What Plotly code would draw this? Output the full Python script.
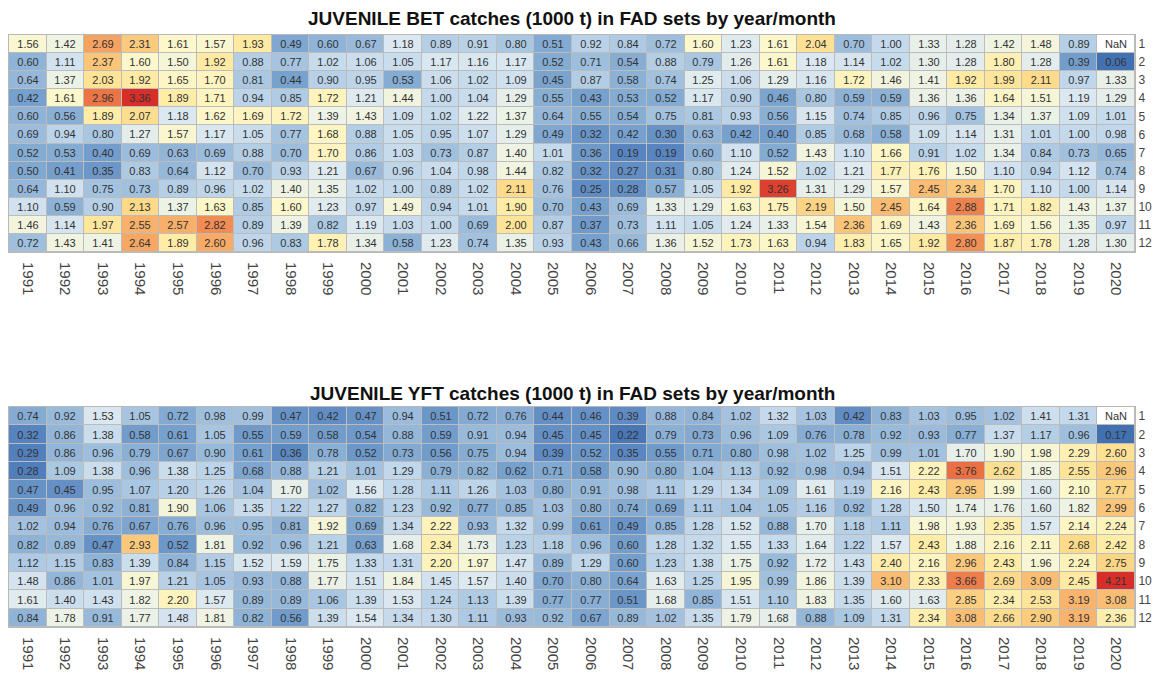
import plotly.graph_objects as go

years = [str(y) for y in range(1991, 2021)]
months = [str(m) for m in range(1, 13)]

# JUVENILE BET catches (1000 t), one list per month, columns 1991..2020
bet_m01 = [1.56, 1.42, 2.69, 2.31, 1.61, 1.57, 1.93, 0.49, 0.60, 0.67, 1.18, 0.89, 0.91, 0.80, 0.51, 0.92, 0.84, 0.72, 1.60, 1.23, 1.61, 2.04, 0.70, 1.00, 1.33, 1.28, 1.42, 1.48, 0.89, None]
bet_m02 = [0.60, 1.11, 2.37, 1.60, 1.50, 1.92, 0.88, 0.77, 1.02, 1.06, 1.05, 1.17, 1.16, 1.17, 0.52, 0.71, 0.54, 0.88, 0.79, 1.26, 1.61, 1.18, 1.14, 1.02, 1.30, 1.28, 1.80, 1.28, 0.39, 0.06]
bet_m03 = [0.64, 1.37, 2.03, 1.92, 1.65, 1.70, 0.81, 0.44, 0.90, 0.95, 0.53, 1.06, 1.02, 1.09, 0.45, 0.87, 0.58, 0.74, 1.25, 1.06, 1.29, 1.16, 1.72, 1.46, 1.41, 1.92, 1.99, 2.11, 0.97, 1.33]
bet_m04 = [0.42, 1.61, 2.96, 3.36, 1.89, 1.71, 0.94, 0.85, 1.72, 1.21, 1.44, 1.00, 1.04, 1.29, 0.55, 0.43, 0.53, 0.52, 1.17, 0.90, 0.46, 0.80, 0.59, 0.59, 1.36, 1.36, 1.64, 1.51, 1.19, 1.29]
bet_m05 = [0.60, 0.56, 1.89, 2.07, 1.18, 1.62, 1.69, 1.72, 1.39, 1.43, 1.09, 1.02, 1.22, 1.37, 0.64, 0.55, 0.54, 0.75, 0.81, 0.93, 0.56, 1.15, 0.74, 0.85, 0.96, 0.75, 1.34, 1.37, 1.09, 1.01]
bet_m06 = [0.69, 0.94, 0.80, 1.27, 1.57, 1.17, 1.05, 0.77, 1.68, 0.88, 1.05, 0.95, 1.07, 1.29, 0.49, 0.32, 0.42, 0.30, 0.63, 0.42, 0.40, 0.85, 0.68, 0.58, 1.09, 1.14, 1.31, 1.01, 1.00, 0.98]
bet_m07 = [0.52, 0.53, 0.40, 0.69, 0.63, 0.69, 0.88, 0.70, 1.70, 0.86, 1.03, 0.73, 0.87, 1.40, 1.01, 0.36, 0.19, 0.19, 0.60, 1.10, 0.52, 1.43, 1.10, 1.66, 0.91, 1.02, 1.34, 0.84, 0.73, 0.65]
bet_m08 = [0.50, 0.41, 0.35, 0.83, 0.64, 1.12, 0.70, 0.93, 1.21, 0.67, 0.96, 1.04, 0.98, 1.44, 0.82, 0.32, 0.27, 0.31, 0.80, 1.24, 1.52, 1.02, 1.21, 1.77, 1.76, 1.50, 1.10, 0.94, 1.12, 0.74]
bet_m09 = [0.64, 1.10, 0.75, 0.73, 0.89, 0.96, 1.02, 1.40, 1.35, 1.02, 1.00, 0.89, 1.02, 2.11, 0.76, 0.25, 0.28, 0.57, 1.05, 1.92, 3.26, 1.31, 1.29, 1.57, 2.45, 2.34, 1.70, 1.10, 1.00, 1.14]
bet_m10 = [1.10, 0.59, 0.90, 2.13, 1.37, 1.63, 0.85, 1.60, 1.23, 0.97, 1.49, 0.94, 1.01, 1.90, 0.70, 0.43, 0.69, 1.33, 1.29, 1.63, 1.75, 2.19, 1.50, 2.45, 1.64, 2.88, 1.71, 1.82, 1.43, 1.37]
bet_m11 = [1.46, 1.14, 1.97, 2.55, 2.57, 2.82, 0.89, 1.39, 0.82, 1.19, 1.03, 1.00, 0.69, 2.00, 0.87, 0.37, 0.73, 1.11, 1.05, 1.24, 1.33, 1.54, 2.36, 1.69, 1.43, 2.36, 1.69, 1.56, 1.35, 0.97]
bet_m12 = [0.72, 1.43, 1.41, 2.64, 1.89, 2.60, 0.96, 0.83, 1.78, 1.34, 0.58, 1.23, 0.74, 1.35, 0.93, 0.43, 0.66, 1.36, 1.52, 1.73, 1.63, 0.94, 1.83, 1.65, 1.92, 2.80, 1.87, 1.78, 1.28, 1.30]

# JUVENILE YFT catches (1000 t), one list per month, columns 1991..2020
yft_m01 = [0.74, 0.92, 1.53, 1.05, 0.72, 0.98, 0.99, 0.47, 0.42, 0.47, 0.94, 0.51, 0.72, 0.76, 0.44, 0.46, 0.39, 0.88, 0.84, 1.02, 1.32, 1.03, 0.42, 0.83, 1.03, 0.95, 1.02, 1.41, 1.31, None]
yft_m02 = [0.32, 0.86, 1.38, 0.58, 0.61, 1.05, 0.55, 0.59, 0.58, 0.54, 0.88, 0.59, 0.91, 0.94, 0.45, 0.45, 0.22, 0.79, 0.73, 0.96, 1.09, 0.76, 0.78, 0.92, 0.93, 0.77, 1.37, 1.17, 0.96, 0.17]
yft_m03 = [0.29, 0.86, 0.96, 0.79, 0.67, 0.90, 0.61, 0.36, 0.78, 0.52, 0.73, 0.56, 0.75, 0.94, 0.39, 0.52, 0.35, 0.55, 0.71, 0.80, 0.98, 1.02, 1.25, 0.99, 1.01, 1.70, 1.90, 1.98, 2.29, 2.60]
yft_m04 = [0.28, 1.09, 1.38, 0.96, 1.38, 1.25, 0.68, 0.88, 1.21, 1.01, 1.29, 0.79, 0.82, 0.62, 0.71, 0.58, 0.90, 0.80, 1.04, 1.13, 0.92, 0.98, 0.94, 1.51, 2.22, 3.76, 2.62, 1.85, 2.55, 2.96]
yft_m05 = [0.47, 0.45, 0.95, 1.07, 1.20, 1.26, 1.04, 1.70, 1.02, 1.56, 1.28, 1.11, 1.26, 1.03, 0.80, 0.91, 0.98, 1.11, 1.29, 1.34, 1.09, 1.61, 1.19, 2.16, 2.43, 2.95, 1.99, 1.60, 2.10, 2.77]
yft_m06 = [0.49, 0.96, 0.92, 0.81, 1.90, 1.06, 1.35, 1.22, 1.27, 0.82, 1.23, 0.92, 0.77, 0.85, 1.03, 0.80, 0.74, 0.69, 1.11, 1.04, 1.05, 1.16, 0.92, 1.28, 1.50, 1.74, 1.76, 1.60, 1.82, 2.99]
yft_m07 = [1.02, 0.94, 0.76, 0.67, 0.76, 0.96, 0.95, 0.81, 1.92, 0.69, 1.34, 2.22, 0.93, 1.32, 0.99, 0.61, 0.49, 0.85, 1.28, 1.52, 0.88, 1.70, 1.18, 1.11, 1.98, 1.93, 2.35, 1.57, 2.14, 2.24]
yft_m08 = [0.82, 0.89, 0.47, 2.93, 0.52, 1.81, 0.92, 0.96, 1.21, 0.63, 1.68, 2.34, 1.73, 1.23, 1.18, 0.96, 0.60, 1.28, 1.32, 1.55, 1.33, 1.64, 1.22, 1.57, 2.43, 1.88, 2.16, 2.11, 2.68, 2.42]
yft_m09 = [1.12, 1.15, 0.83, 1.39, 0.84, 1.15, 1.52, 1.59, 1.75, 1.33, 1.31, 2.20, 1.97, 1.47, 0.89, 1.29, 0.60, 1.23, 1.38, 1.75, 0.92, 1.72, 1.43, 2.40, 2.16, 2.96, 2.43, 1.96, 2.24, 2.75]
yft_m10 = [1.48, 0.86, 1.01, 1.97, 1.21, 1.05, 0.93, 0.88, 1.77, 1.51, 1.84, 1.45, 1.57, 1.40, 0.70, 0.80, 0.64, 1.63, 1.25, 1.95, 0.99, 1.86, 1.39, 3.10, 2.33, 3.66, 2.69, 3.09, 2.45, 4.21]
yft_m11 = [1.61, 1.40, 1.43, 1.82, 2.20, 1.57, 0.89, 0.89, 1.06, 1.39, 1.53, 1.24, 1.13, 1.39, 0.77, 0.77, 0.51, 1.68, 0.85, 1.51, 1.10, 1.83, 1.35, 1.60, 1.63, 2.85, 2.34, 2.53, 3.19, 3.08]
yft_m12 = [0.84, 1.78, 0.91, 1.77, 1.48, 1.81, 0.82, 0.56, 1.39, 1.54, 1.34, 1.30, 1.11, 0.93, 0.92, 0.67, 0.89, 1.02, 1.35, 1.79, 1.68, 0.88, 1.09, 1.31, 2.34, 3.08, 2.66, 2.90, 3.19, 2.36]

bet = [bet_m01, bet_m02, bet_m03, bet_m04, bet_m05, bet_m06,
       bet_m07, bet_m08, bet_m09, bet_m10, bet_m11, bet_m12]
yft = [yft_m01, yft_m02, yft_m03, yft_m04, yft_m05, yft_m06,
       yft_m07, yft_m08, yft_m09, yft_m10, yft_m11, yft_m12]

title_bet = "JUVENILE BET catches (1000 t) in FAD sets by year/month"
title_yft = "JUVENILE YFT catches (1000 t) in FAD sets by year/month"

colorscale = [
    [0.000, "rgb(66,113,178)"],
    [0.040, "rgb(88,133,192)"],
    [0.110, "rgb(118,160,205)"],
    [0.165, "rgb(144,180,215)"],
    [0.225, "rgb(170,199,226)"],
    [0.285, "rgb(196,217,236)"],
    [0.345, "rgb(221,233,241)"],
    [0.406, "rgb(238,243,228)"],
    [0.467, "rgb(252,248,204)"],
    [0.558, "rgb(255,236,166)"],
    [0.618, "rgb(253,220,140)"],
    [0.709, "rgb(250,194,118)"],
    [0.800, "rgb(245,160,95)"],
    [0.891, "rgb(234,110,66)"],
    [1.000, "rgb(214,46,40)"],
]

FONT = "Liberation Sans, Arial, sans-serif"
fig = go.Figure()


def add_panel(z, xa, ya):
    text = [["" if v is None else f"{v:.2f}" for v in row] for row in z]
    vals = [v for row in z for v in row if v is not None]
    fig.add_trace(go.Heatmap(
        z=z, x=years, y=months, text=text, texttemplate="%{text}",
        textfont=dict(size=11, color="#333333", family=FONT),
        colorscale=colorscale, zmin=min(vals), zmax=max(vals),
        showscale=False, xgap=1, ygap=1, xaxis=xa, yaxis=ya,
        hoverongaps=False))
    nan_z = [[1 if v is None else None for v in row] for row in z]
    nan_t = [["NaN" if v is None else "" for v in row] for row in z]
    fig.add_trace(go.Heatmap(
        z=nan_z, x=years, y=months, text=nan_t, texttemplate="%{text}",
        textfont=dict(size=11, color="#333333", family=FONT),
        colorscale=[[0, "white"], [1, "white"]], showscale=False,
        xgap=1, ygap=1, xaxis=xa, yaxis=ya, hoverinfo="skip"))


add_panel(bet, "x", "y")
add_panel(yft, "x2", "y2")

# the page body keeps an 8px margin, so the figure is sized to fit inside the window
W, H = 1145, 677.0
top_dom = [1 - 244 / H, 1 - 27 / H]
bot_dom = [1 - 619 / H, 1 - 399 / H]

xcommon = dict(type="category", tickmode="array", tickvals=years, ticktext=years,
               tickangle=90, ticklabelstandoff=6,
               tickfont=dict(size=15, color="#444444", family=FONT),
               showgrid=False, zeroline=False, ticks="", showline=True, mirror=True,
               linecolor="#b8b8b8", linewidth=1, domain=[0, 1])
ycommon = dict(type="category", tickmode="array", tickvals=months, ticktext=months,
               autorange="reversed", side="right", showgrid=False, zeroline=False, ticks="",
               ticklabelstandoff=0,
               tickfont=dict(size=12, color="#444444", family=FONT),
               showline=True, mirror=True, linecolor="#b8b8b8", linewidth=1)

fig.update_layout(
    width=W, height=int(H),
    margin=dict(l=1, r=18, t=0, b=0),
    paper_bgcolor="white", plot_bgcolor="#bcbcbc",
    xaxis=dict(**xcommon, anchor="y"),
    yaxis=dict(**ycommon, domain=top_dom, anchor="x"),
    xaxis2=dict(**xcommon, anchor="y2"),
    yaxis2=dict(**ycommon, domain=bot_dom, anchor="x2"),
    annotations=[
        dict(text="<b>" + title_bet + "</b>", xref="paper", yref="paper",
             x=0.5, y=1 - 10 / H, xanchor="center", yanchor="middle", showarrow=False,
             font=dict(size=19, color="#111111", family=FONT)),
        dict(text="<b>" + title_yft + "</b>", xref="paper", yref="paper",
             x=0.5, y=1 - 385 / H, xanchor="center", yanchor="middle", showarrow=False,
             font=dict(size=19, color="#111111", family=FONT)),
    ],
)

fig.write_html("out.html")
